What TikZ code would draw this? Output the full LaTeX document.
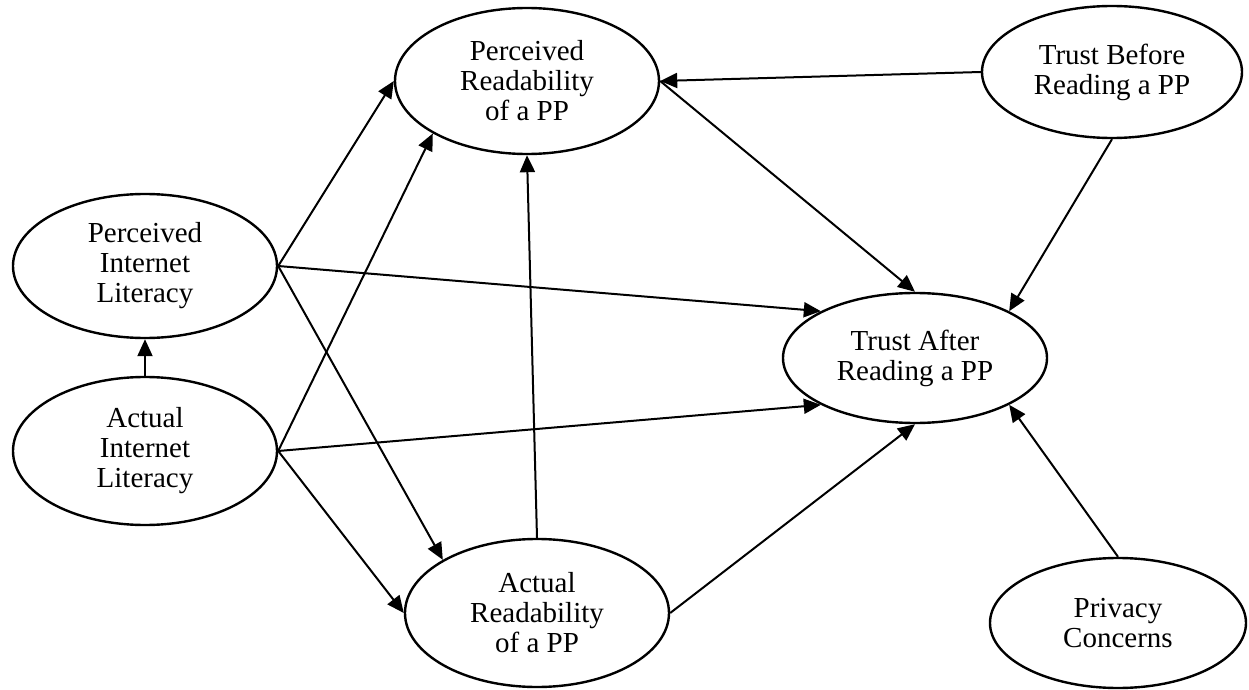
\documentclass[tikz,border=0pt]{standalone}
\usepackage{fontspec}
\setmainfont{Liberation Serif}
\usetikzlibrary{shapes.geometric, arrows.meta, positioning}

\begin{document}
\begin{tikzpicture}
    [x=0.5pt, y=-0.5pt, >={Triangle[length=8.5pt, width=7.5pt]}, line width=1pt,
    every node/.style={font=\fontsize{14.5}{15}\selectfont, align=center}]
    % Define styles for the constructs
    \tikzstyle{construct} = [draw, ellipse, line width=1.2pt, inner sep=0pt, minimum width=132pt, minimum height=73pt]
    \tikzstyle{flat} = [construct, minimum height=66pt]

    \useasboundingbox (0,0) rectangle (1249,690);

    % Nodes placement
    \node [construct, minimum height=72pt] (pil) at (145,266) {Perceived\\Internet\\Literacy};
    \node [construct, minimum height=74pt] (ail) at (145,451) {Actual\\Internet\\Literacy};
    \node [construct] (pr) at (527,81) {Perceived\\Readability\\of a PP};
    \node [flat, minimum width=130pt] (tb) at (1112,72) {Trust Before\\Reading a PP};
    \node [flat, minimum height=65pt] (ta) at (915,358) {Trust After\\Reading a PP};
    \node [construct, minimum height=74pt] (ar) at (537,613) {Actual\\Readability\\of a PP};
    \node [flat, minimum width=128pt, minimum height=65pt] (pc) at (1118,623) {Privacy\\Concerns};

    % Draw edges
    \draw[->] (ail.north) -- (pil.south);
    \draw[->] (pil.east) -- (pr.west);
    \draw[->] (pil.east) -- (ta.north west);
    \draw[->] (pil.east) -- (ar.north west);
    \draw[->] (ail.east) -- (pr.south west);
    \draw[->] (ail.east) -- (ta.south west);
    \draw[->] (ail.east) -- (ar.west);
    \draw[->] (ar.north) -- (pr.south);
    \draw[->] (tb.west) -- (pr.east);
    \draw[->] (pr.east) -- (ta.north);
    \draw[->] (tb.south) -- (ta.north east);
    \draw[->] (ar.east) -- (ta.south);
    \draw[->] (pc.north) -- (ta.south east);
\end{tikzpicture}
\end{document}
